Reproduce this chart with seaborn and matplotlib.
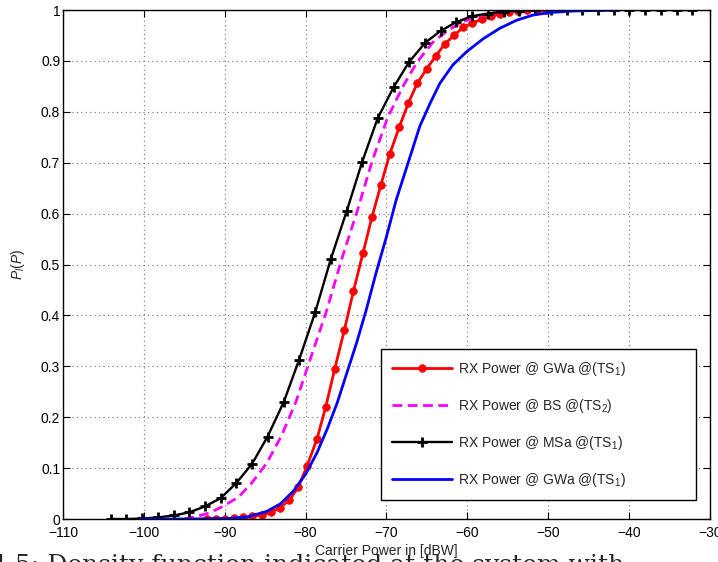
import numpy as np
import matplotlib
matplotlib.use("Agg")
import matplotlib.pyplot as plt
import seaborn as sns

# curve
# RX Power @ GWa @(TS1), red with dots
gwa_x = [-92.2, -91.1, -90.0, -88.8, -87.7, -86.6, -85.4, -84.3, -83.2, -82.0,
         -80.9, -79.8, -78.6, -77.5, -76.4, -75.2, -74.1, -72.9, -71.8, -70.7,
         -69.6, -68.4, -67.3, -66.2, -65.0, -63.9, -62.8, -61.6, -60.5, -59.4,
         -58.2, -57.1, -56.0, -54.8, -53.7, -52.6, -51.4, -50.3]
gwa_y = [0.000, 0.000, 0.000, 0.001, 0.003, 0.005, 0.008, 0.013, 0.022, 0.037,
         0.063, 0.105, 0.157, 0.221, 0.295, 0.372, 0.447, 0.523, 0.593, 0.656,
         0.717, 0.771, 0.817, 0.856, 0.885, 0.910, 0.933, 0.951, 0.966, 0.974,
         0.982, 0.988, 0.992, 0.996, 0.998, 1.000, 1.000, 1.000]

# RX Power @ BS @(TS2), magenta dashed
bs_x = [-95.0, -93.5, -91.9, -90.2, -88.3, -86.6, -84.8, -83.0, -81.2, -79.45,
        -77.45, -75.55, -73.6, -71.8, -69.9, -68.0, -66.2, -64.3, -62.5, -60.7,
        -58.8, -56.0, -53.0]
bs_y = [0.000, 0.005, 0.012, 0.025, 0.043, 0.072, 0.110, 0.163, 0.230, 0.313,
        0.407, 0.510, 0.606, 0.702, 0.787, 0.849, 0.898, 0.936, 0.959, 0.976,
        0.988, 0.996, 1.000]

# RX Power @ MSa @(TS1), black with plus markers
msa_x = [-104.1, -102.2, -100.2, -98.3, -96.3, -94.4, -92.4, -90.5, -88.6, -86.6,
         -84.7, -82.7, -80.8, -78.8, -76.9, -74.9, -73.0, -71.1, -69.1, -67.2,
         -65.2, -63.3, -61.4, -59.4, -57.5, -55.5, -53.6, -51.6, -49.7, -47.7,
         -45.8, -43.9, -41.9, -40.0, -38.0, -36.1, -34.1, -32.2]
msa_y = [0.000, 0.000, 0.001, 0.003, 0.007, 0.013, 0.025, 0.041, 0.070, 0.109,
         0.162, 0.230, 0.313, 0.407, 0.510, 0.606, 0.702, 0.787, 0.849, 0.898,
         0.936, 0.959, 0.976, 0.988, 0.993, 0.997, 0.999, 1.000, 1.000, 1.000,
         1.000, 1.000, 1.000, 1.000, 1.000, 1.000, 1.000, 1.000]

# RX Power @ GWa @(TS1), blue solid
gwb_x = [-100.5, -95.0, -92.0, -89.6, -87.2, -84.8, -83.1, -81.5, -80.0, -78.6,
         -77.3, -76.1, -74.9, -73.7, -72.5, -71.3, -70.0, -68.8, -67.2, -65.9,
         -64.6, -63.4, -61.8, -60.1, -58.0, -56.0, -53.9, -51.9, -49.8, -46.9,
         -41.4]
gwb_y = [0.000, 0.000, 0.0005, 0.001, 0.004, 0.015, 0.030, 0.055, 0.088, 0.130,
         0.178, 0.228, 0.287, 0.346, 0.411, 0.483, 0.555, 0.627, 0.706, 0.771,
         0.817, 0.856, 0.892, 0.918, 0.944, 0.964, 0.980, 0.990, 0.995, 0.998,
         1.000]

labels = [r"RX Power @ GWa @(TS$_\mathregular{1}$)",
          r"RX Power @ BS @(TS$_\mathregular{2}$)",
          r"RX Power @ MSa @(TS$_\mathregular{1}$)",
          r"RX Power @ GWa @(TS$_\mathregular{1}$)"]

sns.set_style("ticks")
plt.rcParams["font.family"] = ["Liberation Sans", "DejaVu Sans"]
plt.rcParams["mathtext.fontset"] = "custom"
plt.rcParams["mathtext.rm"] = "Liberation Sans"
plt.rcParams["mathtext.it"] = "Liberation Sans:italic"

fig = plt.figure(figsize=(7.18, 5.62), dpi=100)
ax = fig.add_axes([0.0877, 0.0765, 0.9012, 0.9057])

sns.lineplot(x=gwa_x, y=gwa_y, ax=ax, color="#ff0000", lw=2, marker="o",
             markersize=5.5, markeredgecolor="#ff0000", markeredgewidth=0.5,
             sort=False, estimator=None, label=labels[0])
sns.lineplot(x=bs_x, y=bs_y, ax=ax, color="#ff00ff", lw=2,
             linestyle=(0, (3.5, 2)), sort=False, estimator=None,
             label=labels[1])
sns.lineplot(x=msa_x, y=msa_y, ax=ax, color="black", lw=1.7, marker="+",
             markersize=7, markeredgewidth=2, markeredgecolor="black",
             sort=False, estimator=None, label=labels[2])
sns.lineplot(x=gwb_x, y=gwb_y, ax=ax, color="#0000ff", lw=2, sort=False,
             estimator=None, label=labels[3])

ax.set_xlim(-110, -30)
ax.set_ylim(0, 1)
ax.set_xticks(np.arange(-110, -29, 10))
ax.set_yticks(np.arange(0, 1.01, 0.1))
ax.set_yticklabels(["0", "0.1", "0.2", "0.3", "0.4", "0.5", "0.6", "0.7",
                    "0.8", "0.9", "1"])
ax.tick_params(direction="in", length=5, width=0.8, top=True, right=True,
               labelsize=10, colors="black")
ax.tick_params(axis="x", pad=5)
ax.tick_params(axis="y", pad=2)
ax.grid(True, color="0.45", linestyle=(0, (1, 3)), linewidth=0.8)
for s in ax.spines.values():
    s.set_linewidth(1.0)
    s.set_color("black")

ax.set_xlabel("Carrier Power in [dBW]", fontsize=10, labelpad=3)
ax.set_ylabel(r"$P_l(P)$", fontsize=10, labelpad=10)

leg = ax.legend(loc="lower left", bbox_to_anchor=(0.491, 0.0373, 0.487, 0.301),
                mode="expand", fancybox=False, edgecolor="black", framealpha=1,
                handlelength=4.3, handletextpad=0.5, labelspacing=1.37,
                borderpad=0.8, borderaxespad=0, fontsize=10, numpoints=1)
leg.get_frame().set_linewidth(1.0)

# caption cut off by the bottom edge in the reference
fig.text(-0.012, -0.018, "4.5: Density function indicated at the system with",
         fontsize=18, family="DejaVu Serif", va="baseline", ha="left")

fig.savefig("out.png", dpi=100)
